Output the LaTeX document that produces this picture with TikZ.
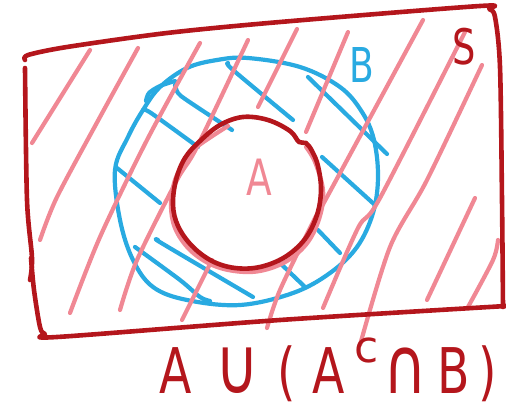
\documentclass[tikz,border=0pt]{standalone}
\usepackage{fontspec}
\usepackage{graphicx}
\setmainfont{DejaVu Sans}
\definecolor{setred}{RGB}{180,22,28}
\definecolor{setblue}{RGB}{41,170,225}
\definecolor{hatchpink}{RGB}{240,136,148}
\newcommand{\hand}[1]{\scalebox{0.75}[1]{#1}}

\begin{document}
\begin{tikzpicture}[x=1pt, y=-1pt, line cap=round, line join=round,
  pinkhatch/.style={hatchpink, line width=4.2pt},
  bluehatch/.style={setblue, line width=4.2pt},
  outline/.style={setred, line width=4.6pt},
  every node/.style={inner sep=0pt}]
  \useasboundingbox (0,0) rectangle (506,404);

  \draw[bluehatch] plot[smooth cycle, tension=0.6] coordinates {(248,58) (300,67) (340,87) (362,112) (374,140) (378,177) (373,213) (357,247) (330,273) (293,293) (240,305) (187,300) (153,287) (133,260) (120,220) (115,170) (128,137) (143,110) (160,87) (187,68) (217,60)};
  \draw[bluehatch] plot[smooth] coordinates {(146,101) (149,93) (160,86) (175,81)};
  \draw[bluehatch] plot[smooth] coordinates {(228,63) (233,70) (293,120)};
  \draw[bluehatch] (308,77) -- (387,154);
  \draw[bluehatch] plot[smooth] coordinates {(175,85) (178,93) (188,101) (232,130)};
  \draw[bluehatch] plot[smooth] coordinates {(143,110) (151,113) (198,147)};
  \draw[bluehatch] (117,168) -- (160,203);
  \draw[bluehatch] (322,157) -- (375,205);
  \draw[bluehatch] (318,230) -- (340,253);
  \draw[bluehatch] (280,263) -- (305,287);
  \draw[bluehatch] plot[smooth] coordinates {(135,247) (180,280) (200,297) (210,301)};
  \draw[bluehatch] plot[smooth] coordinates {(158,240) (163,244) (253,297)};

  \draw[pinkhatch] (90,50) -- (32,143);
  \draw[pinkhatch] plot[smooth] coordinates {(138,48) (100,117) (57,197) (40,240)};
  \draw[pinkhatch] plot[smooth] coordinates {(200,43) (147,140) (100,237) (70,313)};
  \draw[pinkhatch] plot[smooth] coordinates {(248,40) (197,147) (177,180) (137,260) (120,310)};
  \draw[pinkhatch] (297,29) -- (258,107);
  \draw[pinkhatch] (348,32) -- (306,132);
  \draw[pinkhatch] plot[smooth] coordinates {(423,20) (327,197) (313,222) (280,290) (267,328)};
  \draw[pinkhatch] plot[smooth] coordinates {(465,32) (380,198) (358,228) (323,308)};
  \draw[pinkhatch] plot[smooth] coordinates {(482,65) (427,180) (390,247) (360,345)};
  \draw[pinkhatch] (475,198) -- (427,300);
  \draw[pinkhatch] plot[smooth] coordinates {(498,240) (493,260) (468,307)};
  \draw[pinkhatch] (212,260) -- (182,320);
  \draw[pinkhatch] plot[smooth, tension=0.6] coordinates {(306,147) (315,162) (323,190) (320,216) (308,242) (287,261) (260,271) (234,271) (210,264) (189,249) (175,228) (171,205) (175,180) (186,160) (198,146) (228,126)};

  \draw[outline] plot[smooth cycle, tension=0.6] coordinates {(243,117) (268,120) (290,131) (299,142) (306,143) (312,151) (318,166) (321,190) (317,215) (305,239) (285,257) (260,267) (235,268) (212,261) (192,246) (178,226) (173,205) (176,180) (185,158) (200,141) (220,125)};

  \draw[outline] plot[smooth, tension=0.5] coordinates {(25,60) (28,55) (67,47) (167,33) (280,22) (480,6) (489,9) (495,17) (500,67) (502,200) (503,307)};
  \draw[outline] plot[smooth, tension=0.5] coordinates {(25,68) (27,200) (32,258) (30,280)};
  \draw[outline] plot[smooth, tension=0.5] coordinates {(31,258) (34,290) (40,327) (45,334) (57,337) (280,320) (506,306)};

  \node[hatchpink, font=\fontsize{50}{50}\selectfont, anchor=base] (lblA) at (259,195) {\hand{A}};
  \node[setblue, font=\fontsize{48}{48}\selectfont, anchor=base] (lblB) at (362,82) {\hand{B}};
  \node[setred, font=\fontsize{49}{49}\selectfont, anchor=base] (lblS) at (464,65) {\hand{S}};
  \node[setred, font=\fontsize{63}{63}\selectfont, anchor=base west] (expr) at (150,393) {\makebox[51pt]{\hand{A}}\makebox[73pt]{\scalebox{0.95}[1.25]{∪}}\makebox[26pt]{\hand{(}}\makebox[56pt]{\hand{A}}\makebox[20pt]{\raisebox{31pt}{\fontsize{44}{44}\selectfont c}}\makebox[58pt]{\scalebox{0.95}[1.25]{∩}}\makebox[39pt]{\hand{B}}\makebox[29pt]{\hand{)}}};
\end{tikzpicture}
\end{document}
